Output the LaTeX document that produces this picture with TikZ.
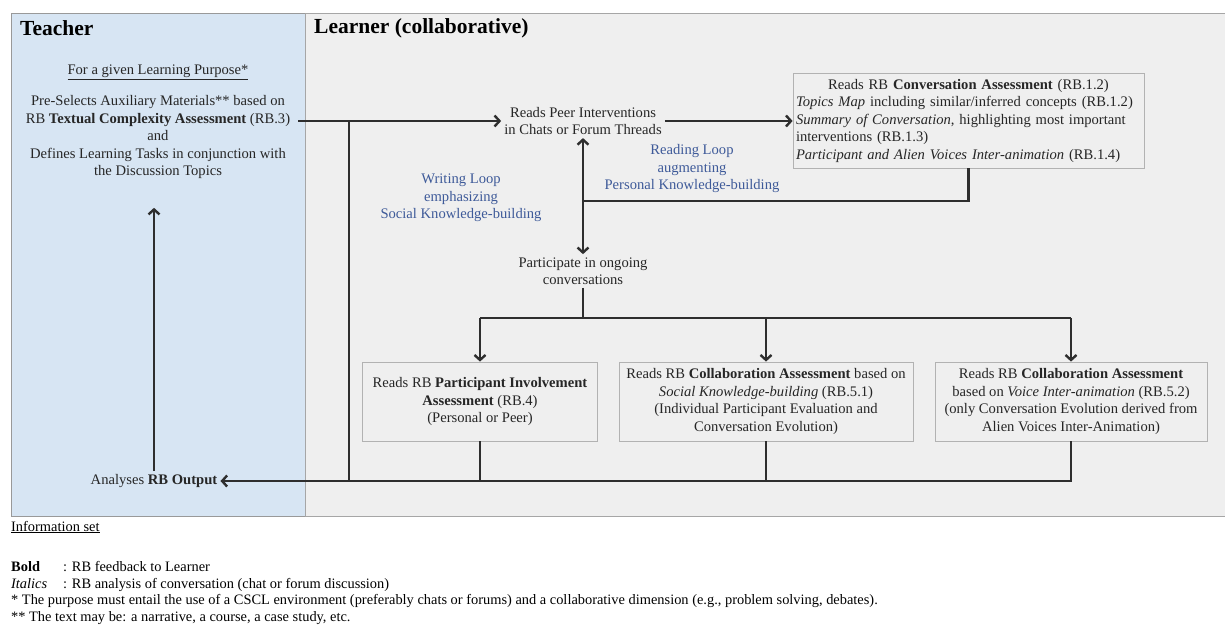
\documentclass[tikz,border=0pt]{standalone}
\usepackage{fontspec}
\setmainfont{Liberation Serif}
\usetikzlibrary{arrows.meta,positioning}
\definecolor{tpanel}{HTML}{D7E5F3}
\definecolor{lpanel}{HTML}{EFEFEF}
\definecolor{flow}{HTML}{2E2E2E}
\definecolor{loopblue}{HTML}{3E5A99}
\newcommand{\txtsize}{\fontsize{14.6}{17.5}\selectfont}

\begin{document}
\begin{tikzpicture}[x=1pt, y=-1pt,
    >={Straight Barb[length=5pt,width=11pt]},
    flowline/.style={draw=flow, line width=2.4pt},
    txt/.style={font=\txtsize, text=black!85, align=center, inner sep=3pt},
    rbbox/.style={txt, draw=black!30, line width=0.8pt, fill=lpanel, minimum height=79pt},
    looplbl/.style={txt, text=loopblue},
    panelhead/.style={font=\fontsize{21.5}{24}\selectfont\bfseries, anchor=west, inner sep=0pt}]
  \useasboundingbox[fill=white] (0,0) rectangle (1225,628);
  % panels
  \draw[fill=tpanel, draw=black!40] (11,13) rectangle (305,516);
  \draw[fill=lpanel, draw=black!35] (305,13) rectangle (1225,516);
  \node[panelhead] (thead) at (20,28) {Teacher};
  \node[panelhead] (lhead) at (314,28) {Learner (collaborative)};

  % teacher side
  \node[txt] (purpose) at (158,72) {\underline{For a given Learning Purpose*}};
  \node[txt] (tsel) at (158,137) {Pre-Selects Auxiliary Materials** based on\\
    RB \textbf{Textual Complexity Assessment} (RB.3)\\ and\\
    Defines Learning Tasks in conjunction with\\ the Discussion Topics};
  \node[txt] (ana) at (154,481) {Analyses \textbf{RB Output}};

  % learner side
  \node[txt] (peer) at (583,121) {Reads Peer Interventions\\ in Chats or Forum Threads};
  \node[rbbox, text width=345pt, minimum height=95pt, align=left] (conv) at (968.5,120.5)
    {\centering Reads RB \textbf{Conversation Assessment} (RB.1.2)\par\raggedright
     \textit{Topics Map} including similar/inferred concepts (RB.1.2)\\
     \textit{Summary of Conversation}, highlighting most important\\
     interventions (RB.1.3)\\
     \textit{Participant and Alien Voices Inter-animation} (RB.1.4)};
  \node[looplbl] (readloop) at (692,169) {Reading Loop\\ augmenting\\ Personal Knowledge-building};
  \node[looplbl] (writeloop) at (461,198) {Writing Loop\\ emphasizing\\ Social Knowledge-building};
  \node[txt] (part) at (583,271) {Participate in ongoing\\ conversations};
  \node[rbbox, minimum width=235pt] (inv) at (480,401.5)
    {Reads RB \textbf{Participant Involvement}\\ \textbf{Assessment} (RB.4)\\ (Personal or Peer)};
  \node[rbbox, minimum width=294pt] (soc) at (766,401.5)
    {Reads RB \textbf{Collaboration Assessment} based on\\ \textit{Social Knowledge-building} (RB.5.1)\\
     (Individual Participant Evaluation and\\ Conversation Evolution)};
  \node[rbbox, minimum width=272pt] (voice) at (1071,401.5)
    {Reads RB \textbf{Collaboration Assessment}\\ based on \textit{Voice Inter-animation} (RB.5.2)\\
     (only Conversation Evolution derived from\\ Alien Voices Inter-Animation)};

  % junctions
  \coordinate (tout) at (298,121);
  \coordinate (jl) at (349,121);
  \coordinate (jloop) at (583,201);
  \coordinate (jsplit) at (583,318);
  \coordinate (jbot) at (349,481);

  % connectors
  \draw[flowline, ->] (tout) -- (tout -| peer.west);
  \draw[flowline] (jl) -- (jbot);
  \draw[flowline, ->] (peer.east) -- (peer.east -| conv.west);
  \draw[flowline] (conv.south) |- (jloop);
  \draw[flowline, <->] (peer.south) -- (part.north);
  \draw[flowline] (part.south) -- (jsplit);
  \draw[flowline] (inv.north |- jsplit) -- (voice.north |- jsplit);
  \draw[flowline, ->] (inv.north |- jsplit) -- (inv.north);
  \draw[flowline, ->] (soc.north |- jsplit) -- (soc.north);
  \draw[flowline, ->] (voice.north |- jsplit) -- (voice.north);
  \draw[flowline] (inv.south) -- (inv.south |- ana);
  \draw[flowline] (soc.south) -- (soc.south |- ana);
  \draw[flowline, ->] (voice.south) |- (ana.east);
  \draw[flowline, ->, shorten >=26pt] (ana.north) -- (ana.north |- tsel.south);

  % legend
  \node[font=\fontsize{14.4}{16}\selectfont, anchor=west, inner sep=0pt] (infoset) at (11,527)
    {\underline{Information set}};
  \node[font=\fontsize{14.4}{16.7}\selectfont, anchor=north west, align=left, inner sep=0pt] (legend)
    at (11,561)
    {\makebox[52pt][l]{\textbf{Bold}}: RB feedback to Learner\\
     \makebox[52pt][l]{\textit{Italics}}: RB analysis of conversation (chat or forum discussion)\\
     * The purpose must entail the use of a CSCL environment (preferably chats or forums) and a collaborative dimension (e.g., problem solving, debates).\\
     ** The text may be: a narrative, a course, a case study, etc.};
\end{tikzpicture}
\end{document}
